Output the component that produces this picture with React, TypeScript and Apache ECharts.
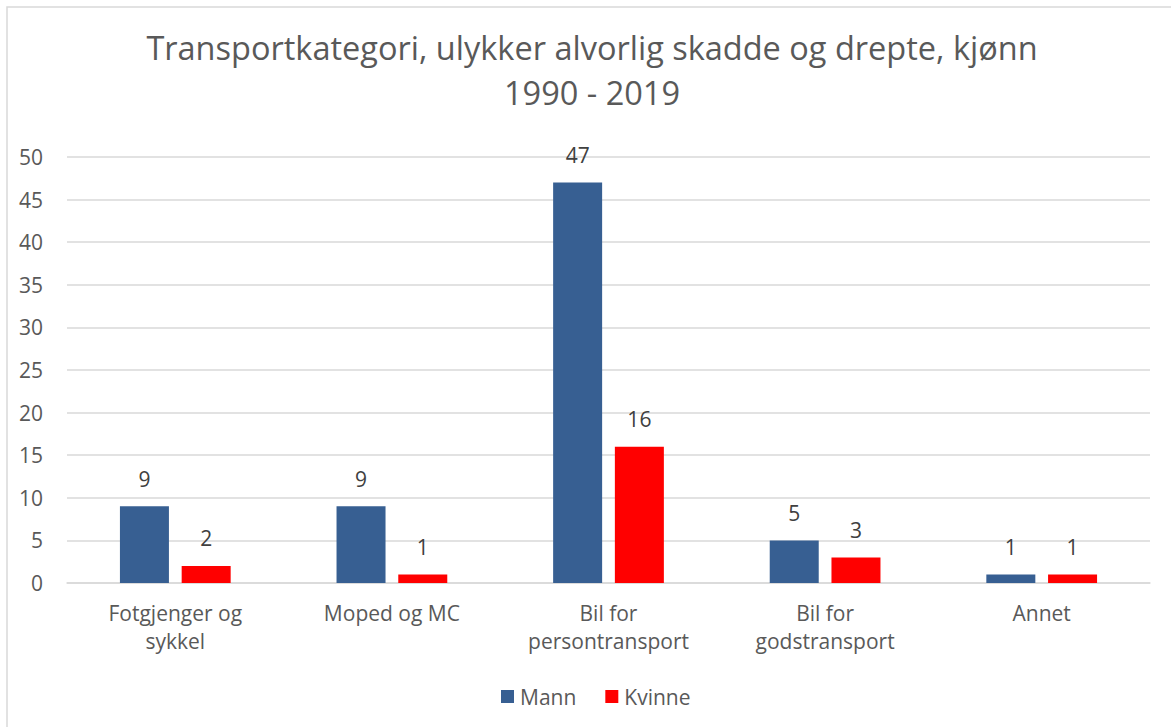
import React, { useEffect, useRef } from "react";
import * as echarts from "echarts";

const categories = ["Fotgjenger og\nsykkel", "Moped og MC", "Bil for\npersontransport", "Bil for\ngodstransport", "Annet"];
const mann = [9, 9, 47, 5, 1];
const kvinne = [2, 1, 16, 3, 1];
const titleText = "Transportkategori, ulykker alvorlig skadde og drepte, kjønn\n1990 - 2019";

const FONT = "'Open Sans', sans-serif";
const GREY = "#595959";

export default function App() {
  const ref = useRef<HTMLDivElement>(null);
  useEffect(() => {
    const chart = echarts.init(ref.current!, null, { renderer: "svg" });
    chart.setOption({
      animation: false,
      backgroundColor: "#ffffff",
      textStyle: { fontFamily: FONT },
      title: {
        text: titleText,
        left: 587,
        textAlign: "center",
        top: 20,
        textStyle: { fontFamily: FONT, fontSize: 32.5, fontWeight: "normal", color: GREY, lineHeight: 45 },
      },
      graphic: [
        {
          type: "rect",
          shape: { x: 7, y: 7, width: 1200, height: 800 },
          style: { fill: "none", stroke: "#d9d9d9", lineWidth: 1.5 },
          silent: true,
        },
      ],
      legend: {
        bottom: 15,
        left: 496,
        itemWidth: 13,
        itemHeight: 13,
        itemGap: 29,
        icon: "rect",
        textStyle: { fontFamily: FONT, fontSize: 21, color: GREY, padding: [0, 0, 0, 1] },
        data: ["Mann", "Kvinne"],
      },
      grid: { left: 67, right: 21, top: 157, bottom: 144, containLabel: false },
      xAxis: {
        type: "category",
        data: categories,
        axisLine: { lineStyle: { color: "#d9d9d9", width: 1.5 } },
        axisTick: { show: false },
        axisLabel: { fontFamily: FONT, fontSize: 21, color: GREY, lineHeight: 28, margin: 16 },
      },
      yAxis: {
        type: "value",
        min: 0,
        max: 50,
        interval: 5,
        axisLine: { show: false },
        axisTick: { show: false },
        splitLine: { lineStyle: { color: "#d9d9d9", width: 1.5 } },
        axisLabel: { fontFamily: FONT, fontSize: 21, color: GREY, margin: 24 },
      },
      series: [
        {
          name: "Mann",
          type: "bar",
          data: mann,
          barWidth: 49,
          barGap: "26%",
          itemStyle: { color: "#375F92" },
          label: { show: true, position: "top", distance: 17, fontFamily: FONT, fontSize: 21, color: "#404040" },
        },
        {
          name: "Kvinne",
          type: "bar",
          data: kvinne,
          barWidth: 49,
          itemStyle: { color: "#FF0000" },
          label: { show: true, position: "top", distance: 17, fontFamily: FONT, fontSize: 21, color: "#404040" },
        },
      ],
    });
    return () => chart.dispose();
  }, []);
  return <div ref={ref} style={{ position: "fixed", left: 0, top: 0, width: 1171, height: 727 }} />;
}
